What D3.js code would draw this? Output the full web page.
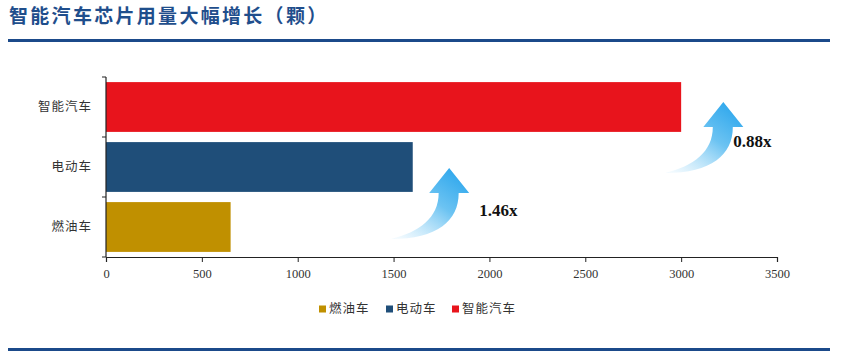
<!DOCTYPE html>
<html>
<head>
<meta charset="utf-8">
<script src="https://cdn.jsdelivr.net/npm/d3@7"></script>
<style>
  body { margin: 0; background: #fff; }
  svg { display: block; }
</style>
</head>
<body>
<svg id="chart" width="841" height="355"></svg>
<script>
const categories = ['燃油车', '电动车', '智能汽车'];
const values = [650, 1600, 3000];
const colors = ['#c09000', '#1f4e79', '#e8141c'];
const xTicks = [0, 500, 1000, 1500, 2000, 2500, 3000, 3500];
// growth arrows: label, value at the tip, band it sits beside
const growthLabels = ['1.46x', '0.88x'];
const growthTip = [1790, 3220];
const growthBand = ['燃油车', '电动车'];

const svg = d3.select('#chart');
const W = 841, H = 355;
const margin = { left: 106, right: 64, top: 77, bottom: 98 };

// title + rules
svg.append('text')
  .attr('x', 9).attr('y', 23)
  .attr('font-family', '"Noto Sans CJK SC", sans-serif')
  .attr('font-weight', 700)
  .attr('font-size', 19)
  .attr('letter-spacing', 2.3)
  .attr('fill', '#1f4e8c')
  .text('智能汽车芯片用量大幅增长（颗）');

svg.append('rect').attr('x', 8).attr('y', 39).attr('width', 822).attr('height', 3).attr('fill', '#1b4a8a');
svg.append('rect').attr('x', 8).attr('y', 348).attr('width', 822).attr('height', 3).attr('fill', '#1b4a8a');

const x = d3.scaleLinear().domain([0, 3500]).range([margin.left, W - margin.right]);
const y = d3.scaleBand().domain(categories.slice().reverse()).range([margin.top, H - margin.bottom])
  .paddingInner(0.17).paddingOuter(0.085);

// arrow gradient
const defs = svg.append('defs');
const grad = defs.append('linearGradient').attr('id', 'arrowGrad')
  .attr('x1', '0.9').attr('y1', '0').attr('x2', '0.1').attr('y2', '1');
grad.append('stop').attr('offset', '0%').attr('stop-color', '#27a4ec');
grad.append('stop').attr('offset', '45%').attr('stop-color', '#6cc3f2');
grad.append('stop').attr('offset', '100%').attr('stop-color', '#eaf7fe').attr('stop-opacity', 0.6);

// bars
svg.append('g').selectAll('rect')
  .data(categories)
  .join('rect')
  .attr('x', x(0))
  .attr('y', d => y(d))
  .attr('width', (d, i) => x(values[i]) - x(0))
  .attr('height', y.bandwidth())
  .attr('fill', (d, i) => colors[i]);

// x axis
const xAxis = svg.append('g')
  .attr('transform', `translate(0,${H - margin.bottom})`)
  .call(d3.axisBottom(x).tickValues(xTicks).tickSize(5).tickSizeOuter(5).tickFormat(d3.format('d')));
xAxis.select('.domain').attr('stroke', '#222').attr('stroke-width', 1.2);
xAxis.selectAll('.tick line').attr('stroke', '#222');
xAxis.selectAll('text')
  .attr('font-family', '"Liberation Serif", serif')
  .attr('font-size', 12.5)
  .attr('fill', '#333')
  .attr('dy', '1.05em');

// y axis: line plus ticks at band boundaries
const yg = svg.append('g');
const step = y.step();
const [y0, y1] = y.range();
yg.append('line').attr('x1', x(0)).attr('x2', x(0)).attr('y1', y0).attr('y2', y1)
  .attr('stroke', '#222').attr('stroke-width', 1.2);
yg.selectAll('.yt')
  .data(d3.range(categories.length + 1))
  .join('line')
  .attr('class', 'yt')
  .attr('x1', x(0) - 4).attr('x2', x(0))
  .attr('y1', i => y0 + i * step).attr('y2', i => y0 + i * step)
  .attr('stroke', '#222');
yg.selectAll('text')
  .data(categories)
  .join('text')
  .attr('x', x(0) - 14)
  .attr('y', d => y(d) + y.bandwidth() / 2)
  .attr('dy', '0.35em')
  .attr('text-anchor', 'end')
  .attr('font-family', '"Noto Sans CJK SC", sans-serif')
  .attr('font-size', 12.5)
  .attr('letter-spacing', 1)
  .attr('fill', '#333')
  .text(d => d);

// growth arrows (tip offset above band, label offset from tip)
const tipRise = [34, 40];
const labelOff = [[30, 48], [10, 45]];
const arrowPath = 'M 0 0 L 20 25 L 9.5 25 C 9.5 53, -12 71, -58 71 C -30 64, -10.5 50, -10.5 25 L -20 25 Z';
growthLabels.forEach((label, i) => {
  const tipX = x(growthTip[i]);
  const tipY = y(growthBand[i]) - tipRise[i];
  svg.append('path')
    .attr('d', arrowPath)
    .attr('transform', `translate(${tipX},${tipY})`)
    .attr('fill', 'url(#arrowGrad)');
  svg.append('text')
    .attr('x', tipX + labelOff[i][0])
    .attr('y', tipY + labelOff[i][1])
    .attr('font-family', '"Liberation Serif", serif')
    .attr('font-weight', 700)
    .attr('font-size', 17)
    .attr('fill', '#111')
    .text(label);
});

// legend
const legend = svg.append('g');
const legX = [319, 386, 452];
categories.forEach((c, i) => {
  legend.append('rect')
    .attr('x', legX[i]).attr('y', 305.5)
    .attr('width', 7).attr('height', 7)
    .attr('fill', colors[i]);
  legend.append('text')
    .attr('x', legX[i] + 10).attr('y', 309)
    .attr('dy', '0.35em')
    .attr('font-family', '"Noto Sans CJK SC", sans-serif')
    .attr('font-size', 12.5)
    .attr('letter-spacing', 1)
    .attr('fill', '#333')
    .text(c);
});
</script>
</body>
</html>
